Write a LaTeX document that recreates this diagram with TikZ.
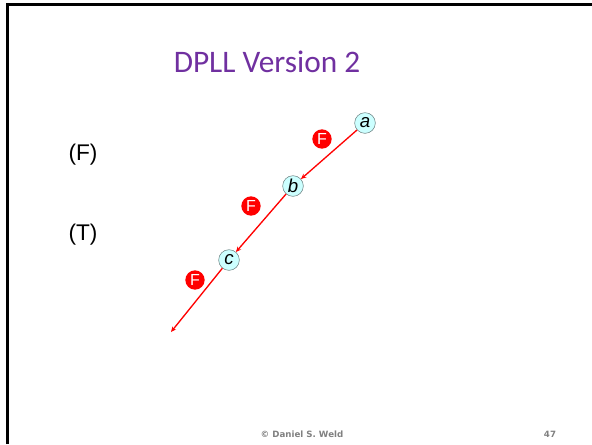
\documentclass[tikz,border=0pt]{standalone}
\usepackage{fontspec}
\usepackage{xcolor}
\usetikzlibrary{arrows.meta}
\newfontfamily\titlefont{Carlito}
\newfontfamily\arialfont{Liberation Sans}
\newfontfamily\footfont{DejaVu Sans}
\definecolor{titlepurple}{RGB}{112,48,160}
\definecolor{varcyan}{RGB}{204,255,255}
\definecolor{vargray}{RGB}{110,130,130}

\begin{document}
\begin{tikzpicture}[x=0.75pt,y=0.75pt,yscale=-1,xscale=1,
    var/.style={circle,draw=vargray,fill=varcyan,inner sep=0pt,minimum size=15.5pt,font=\arialfont\itshape\fontsize{14}{14}\selectfont},
    flag/.style={circle,fill=red,text=white,inner sep=0pt,minimum size=14.5pt,font=\arialfont\fontsize{12}{12}\selectfont},
    branch/.style={draw=red,line width=1pt,-{Stealth[length=4pt,width=3.5pt]}}]
    \useasboundingbox (0,0) rectangle (592,444);

    %Slide frame
    \draw [line width=2.25pt] (7,444) -- (7,4.5) -- (592,4.5) ;

    % Title
    \node (title) at (267,62) {\titlefont\fontsize{23.5}{23.5}\selectfont\color{titlepurple}DPLL Version 2};

    % Text Node
    \node (valF) at (83,155) {\arialfont\fontsize{17}{17}\selectfont (F)};
    % Text Node
    \node (valT) at (83,235) {\arialfont\fontsize{17}{17}\selectfont (T)};

    %Variables
    \node [var] (a) at (365,123) {a};
    \node [var] (b) at (293,186) {b};
    \node [var] (c) at (229,260) {c};
    \coordinate (end) at (171,332);

    %Branches
    \draw [branch] (a) -- (b);
    \draw [branch] (b) -- (c);
    \draw [branch] (c) -- (end);

    %False labels
    \node [flag] (fa) at (322,139) {F};
    \node [flag] (fb) at (251,206) {F};
    \node [flag] (fc) at (195,280) {F};

    % Footer
    \node (credit) at (302,434) {\footfont\bfseries\fontsize{6.5}{6.5}\selectfont\color{gray}\textcopyright\ Daniel S. Weld};
    \node (page) at (550,434) {\footfont\bfseries\fontsize{6.5}{6.5}\selectfont\color{gray}47};
\end{tikzpicture}
\end{document}
